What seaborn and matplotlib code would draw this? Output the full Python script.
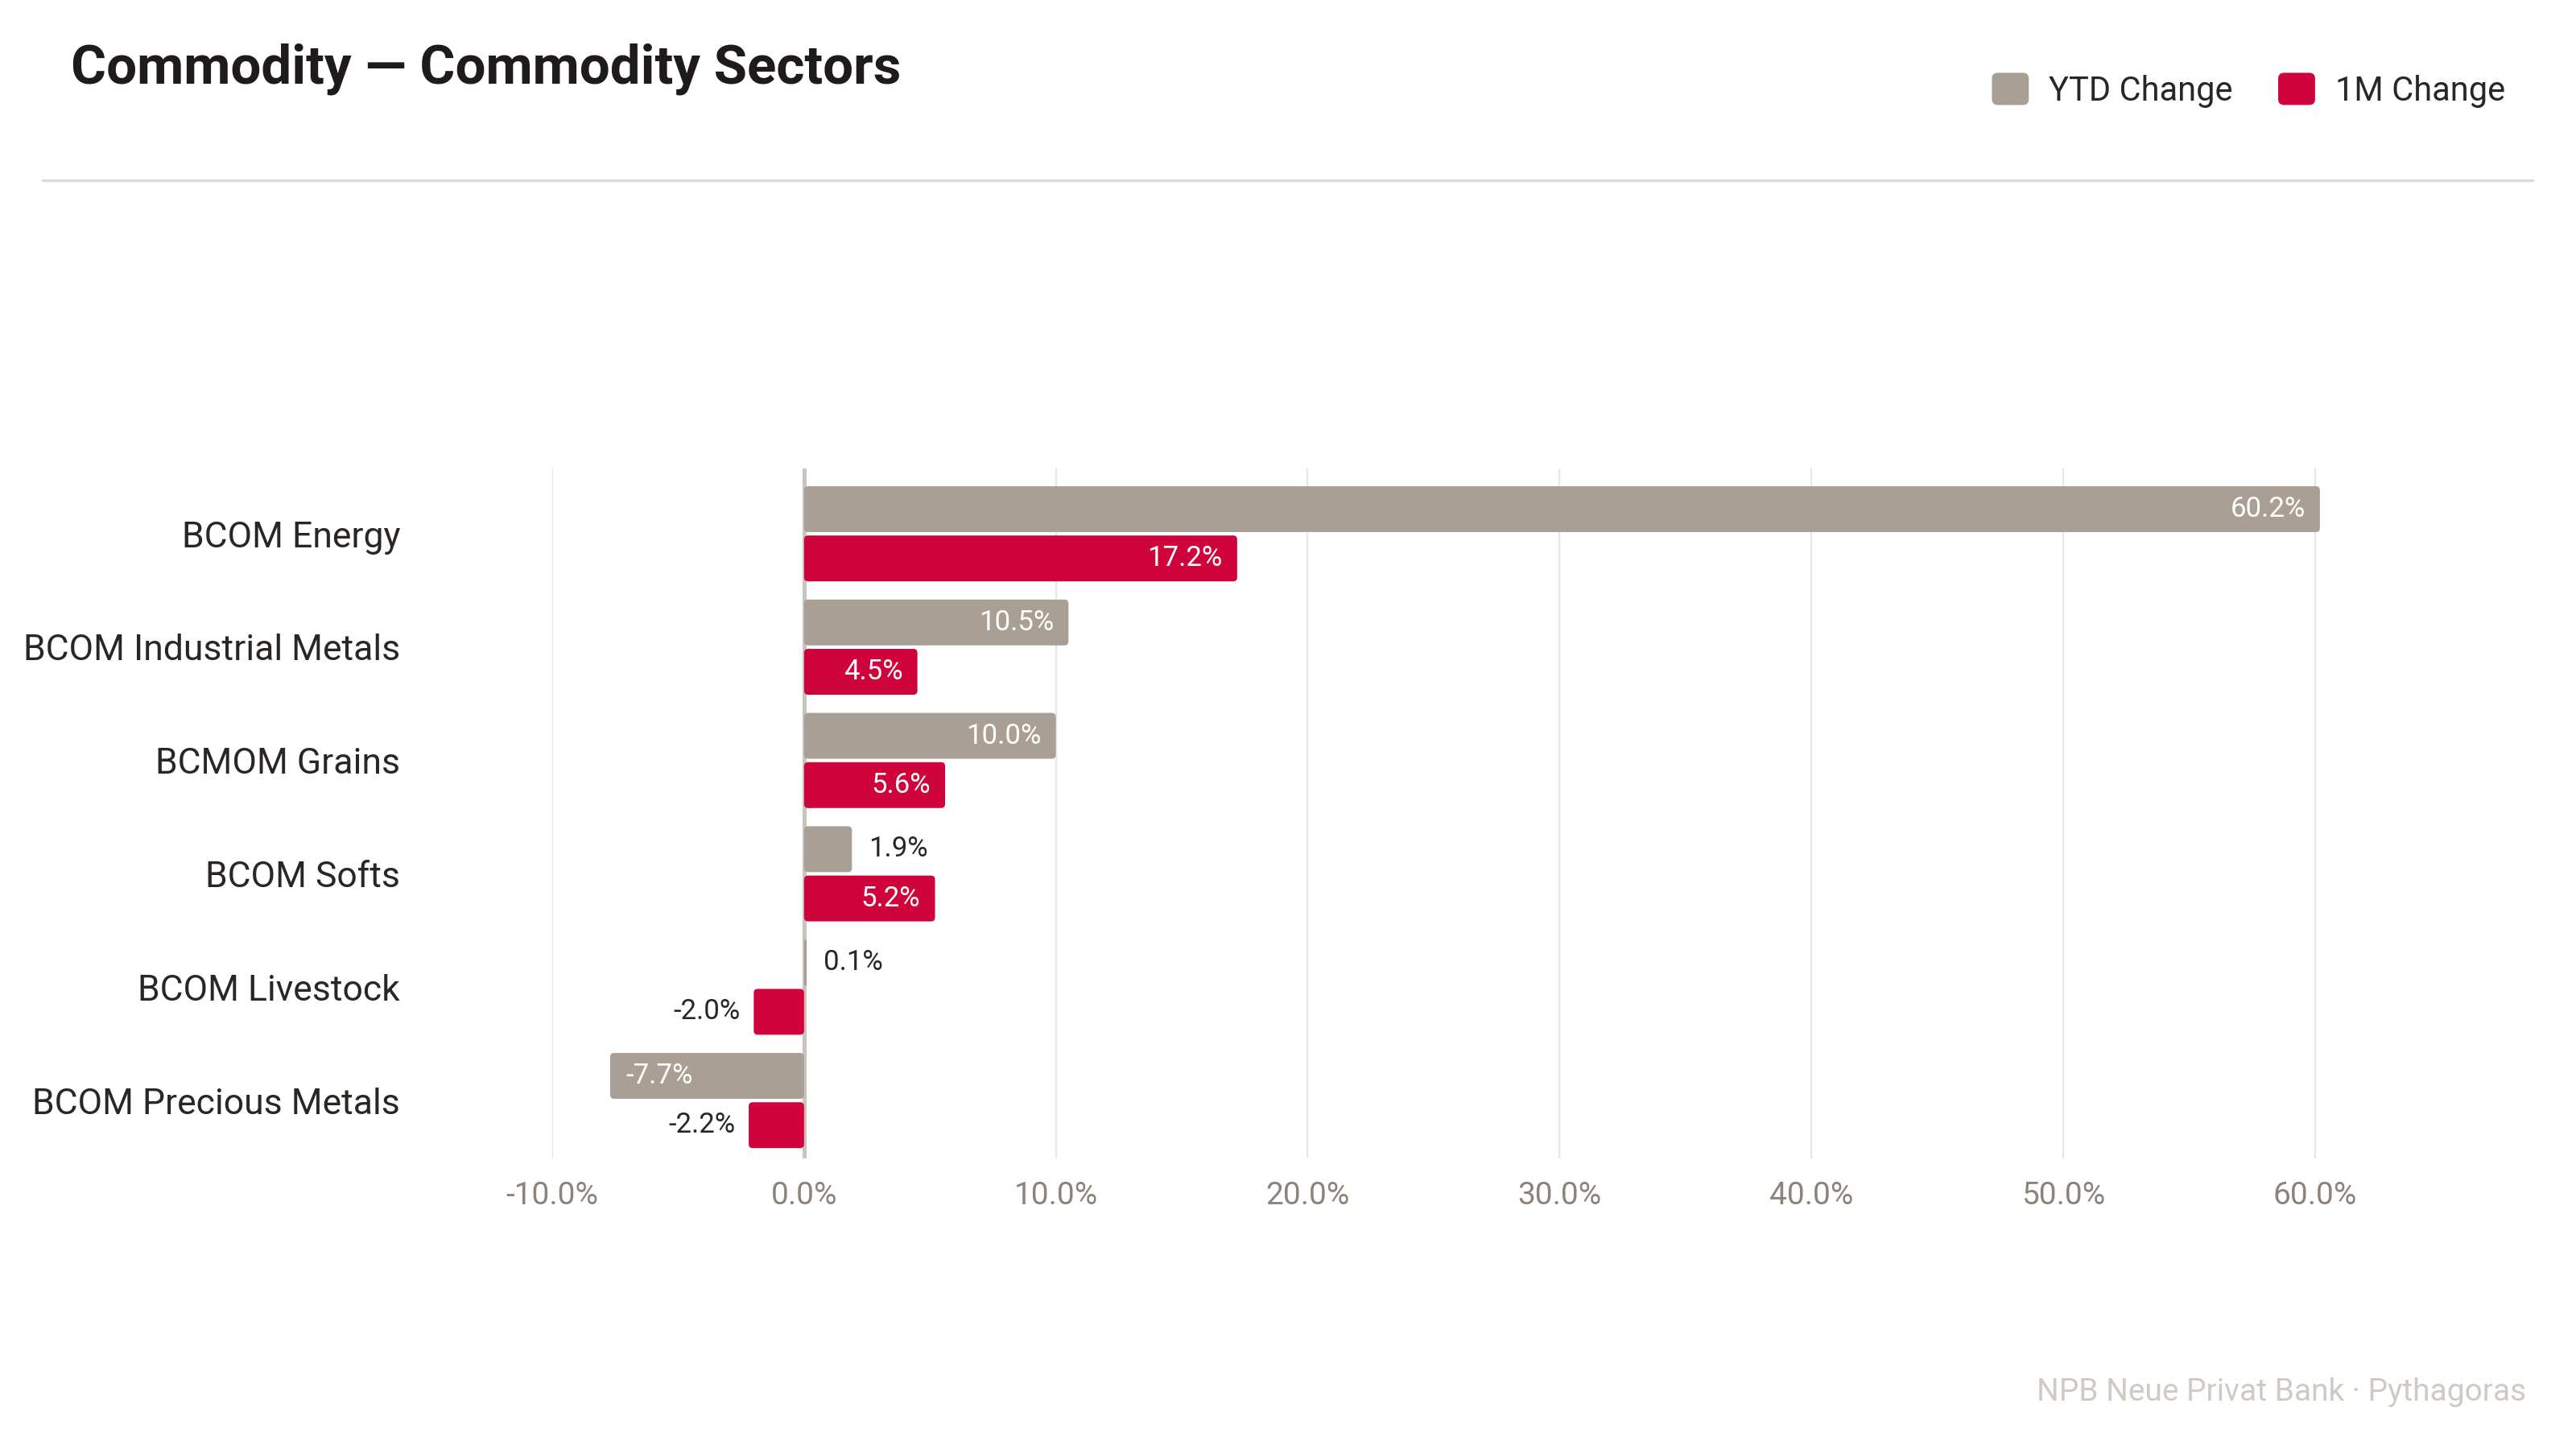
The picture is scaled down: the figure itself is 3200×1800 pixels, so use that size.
import pandas as pd
import seaborn as sns
import matplotlib.pyplot as plt
from matplotlib.patches import FancyBboxPatch, Patch
from matplotlib.lines import Line2D
from matplotlib.legend_handler import HandlerPatch

# data (percent)
sectors = ["BCOM Energy", "BCOM Industrial Metals", "BCMOM Grains",
           "BCOM Softs", "BCOM Livestock", "BCOM Precious Metals"]
ytd_change = [60.2, 10.5, 10.0, 1.9, 0.1, -7.7]
m1_change = [17.2, 4.5, 5.6, 5.2, -2.0, -2.2]
series_names = ["YTD Change", "1M Change"]
x_ticks = [-10, 0, 10, 20, 30, 40, 50, 60]

GRAY = "#a99f95"
RED = "#d0043c"
DARK = "#2a2624"

sns.set_theme(style="white")
plt.rcParams['font.family'] = ['Roboto', 'DejaVu Sans']

df = pd.DataFrame({
    "sector": sectors * 2,
    "value": ytd_change + m1_change,
    "series": [series_names[0]] * len(sectors) + [series_names[1]] * len(sectors),
})

fig = plt.figure(figsize=(16, 9), dpi=200)
ax = fig.add_axes([0.2144, 0.2006, 0.694, 0.476])

sns.barplot(data=df, y="sector", x="value", hue="series", order=sectors,
            hue_order=series_names, palette=[GRAY, RED], saturation=1,
            width=0.87, gap=0.07, legend=False, ax=ax)

ax.set_xlim(-10, 61)
ax.set_ylim(5.51, -0.575)

# swap the plain rectangles for rounded ones, keep geometry
px_per_x = 312.8 / 10
px_per_y = 141.0
r_px = 5
bars = []
for container, vals in zip(ax.containers, [ytd_change, m1_change]):
    for bar, v in zip(container, vals):
        bb = bar.get_bbox()
        bars.append((bb.xmin, bb.xmax, bb.ymin, bb.ymax, bar.get_facecolor(), v))
for p in list(ax.patches):
    p.remove()

for x0, x1, y0, y1, fc, v in bars:
    w = x1 - x0
    h = y1 - y0
    r = min(r_px / px_per_x, w / 2)
    aspect = px_per_x / px_per_y
    ax.add_patch(FancyBboxPatch((x0, y0), w, h,
                                boxstyle=f"round,pad=0,rounding_size={r}",
                                mutation_aspect=aspect, facecolor=fc,
                                edgecolor="none", zorder=2))
    yc = (y0 + y1) / 2
    label = f"{v:.1f}%"
    if abs(v) >= 3:
        if v > 0:
            ax.annotate(label, (x1, yc), xytext=(-6.5, 0), textcoords="offset points",
                        ha="right", va="center", color="white", fontsize=12.5, zorder=4)
        else:
            ax.annotate(label, (x0, yc), xytext=(7, 0), textcoords="offset points",
                        ha="left", va="center", color="white", fontsize=12.5, zorder=4)
    else:
        if v >= 0:
            ax.annotate(label, (x1, yc), xytext=(7.5, 0), textcoords="offset points",
                        ha="left", va="center", color=DARK, fontsize=12.5, zorder=4)
        else:
            ax.annotate(label, (x0, yc), xytext=(-6, 0), textcoords="offset points",
                        ha="right", va="center", color=DARK, fontsize=12.5, zorder=4)

ax.axvline(0, color="#c9c4be", lw=1.8, zorder=1.5)
ax.set_xticks(x_ticks)
ax.set_xticklabels([f"{t:.1f}%" for t in x_ticks])
ax.grid(axis="x", color="#e6e6e6", lw=0.8)
ax.grid(axis="y", visible=False)
ax.set_axisbelow(True)
for s in ax.spines.values():
    s.set_visible(False)
ax.tick_params(axis="x", length=0, pad=10, labelsize=14, labelcolor="#8c847c")
ax.tick_params(axis="y", length=0, pad=68, labelsize=16, labelcolor=DARK)
ax.set_xlabel("")
ax.set_ylabel("")


class RoundHandler(HandlerPatch):
    def create_artists(self, legend, orig_handle, xdescent, ydescent,
                       width, height, fontsize, trans):
        p = FancyBboxPatch((-xdescent, -ydescent), width, height,
                           boxstyle=f"round,pad=0,rounding_size={height * 0.18}",
                           facecolor=orig_handle.get_facecolor(),
                           edgecolor="none", transform=trans)
        return [p]


handles = [Patch(color=GRAY, label=series_names[0]), Patch(color=RED, label=series_names[1])]
fig.legend(handles=handles, loc="center right", bbox_to_anchor=(3112 / 3200, 1 - 112 / 1800),
           ncol=2, frameon=False, fontsize=15, handlelength=1.1, handleheight=1.1,
           handletextpad=0.6, columnspacing=1.35, borderpad=0, borderaxespad=0,
           labelcolor=DARK, handler_map={Patch: RoundHandler()})

fig.text(88 / 3200, 1 - 104 / 1800, "Commodity — Commodity Sectors", fontsize=24.2,
         fontweight="bold", color="#1f1b1a", va="baseline")
fig.add_artist(Line2D([53 / 3200, 3146 / 3200], [1 - 224 / 1800] * 2,
                      color="#dedbd7", lw=1.2))
fig.text(3138 / 3200, 1 - 1740 / 1800, "NPB Neue Privat Bank · Pythagoras",
         ha="right", va="baseline", fontsize=14, color="#cfcac4")

fig.savefig("out.png", dpi=200)
